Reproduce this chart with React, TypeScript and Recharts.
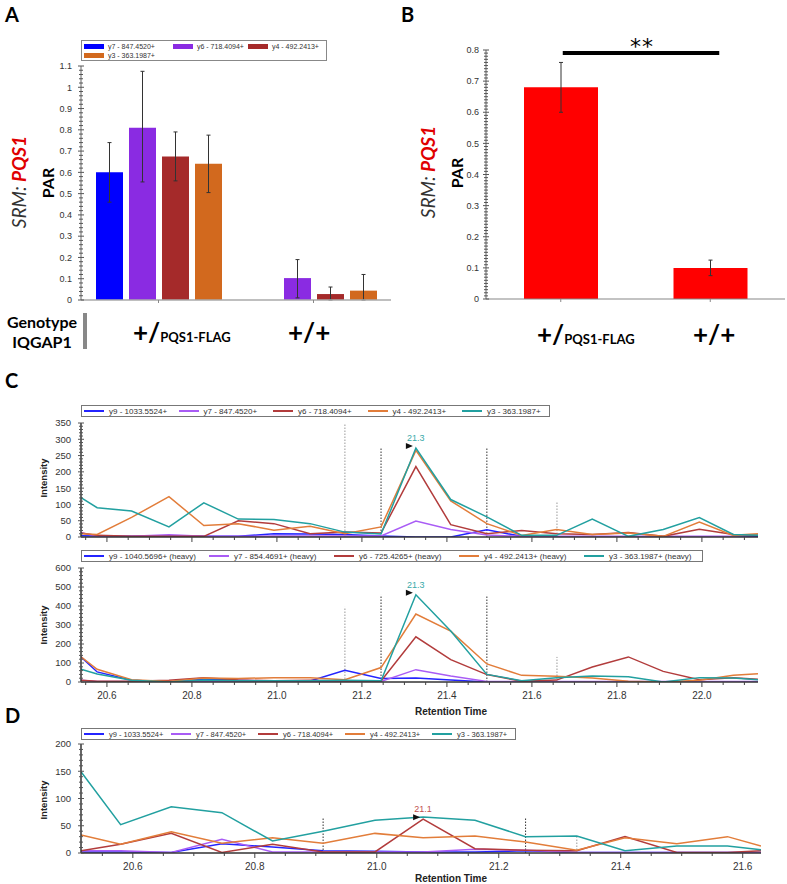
import React from 'react';
import { BarChart, Bar, LineChart, Line, XAxis, YAxis, ErrorBar, ReferenceLine } from 'recharts';

// ---- panel A: PAR per transition ----
const genotypes = ['+/PQS1-FLAG', '+/+'];
const y7Par = [0.6, 0];
const y6Par = [0.81, 0.103];
const y4Par = [0.675, 0.028];
const y3Par = [0.64, 0.044];
const y7Err = [[0.14, 0.14], [0, 0]];
const y6Err = [[0.255, 0.265], [0.093, 0.087]];
const y4Err = [[0.115, 0.115], [0.028, 0.033]];
const y3Err = [[0.135, 0.135], [0.044, 0.076]];
const aMajorTicks = [0, 0.1, 0.2, 0.3, 0.4, 0.5, 0.6, 0.7, 0.8, 0.9, 1, 1.1];

// ---- panel B: mean PAR ----
const bPar = [0.68, 0.1];
const bErr = [0.08, 0.025];
const bMajorTicks = [0, 0.1, 0.2, 0.3, 0.4, 0.5, 0.6, 0.7, 0.8];

// ---- panel C: chromatograms (light / heavy) ----
const cTimes = [20.539, 20.577, 20.658, 20.746, 20.828, 20.909, 20.993, 21.078, 21.16, 21.245, 21.327,
  21.409, 21.494, 21.576, 21.658, 21.742, 21.827, 21.909, 21.994, 22.074, 22.132];
const cY9 = [4, 3, 2, 3, 2, 2, 10, 9, 8, 3, 0, 0, 22, 2, 1, 1, 1, 1, 1, 1, 1];
const cY7 = [13, 3, 2, 7, 2, 2, 3, 3, 3, 3, 49, 23, 6, 2, 2, 2, 2, 2, 2, 2, 5];
const cY6 = [12, 5, 2, 2, 2, 50, 41, 10, 15, 12, 216, 38, 10, 20, 10, 8, 14, 2, 24, 8, 5];
const cY4 = [10, 8, 60, 124, 35, 41, 21, 33, 10, 31, 266, 111, 41, 5, 23, 8, 12, 2, 46, 5, 10];
const cY3 = [121, 90, 80, 31, 105, 55, 54, 41, 15, 9, 273, 115, 62, 5, 5, 55, 2, 23, 60, 8, 5];
const cY9h = [132, 53, 9, 0, 14, 9, 5, 5, 62, 18, 21, 10, 0, 0, 0, 0, 0, 0, 0, 0, 0];
const cY7h = [9, 3, 3, 3, 3, 3, 3, 3, 3, 3, 65, 32, 3, 2, 2, 2, 2, 2, 2, 2, 2];
const cY6h = [9, 4, 4, 9, 23, 10, 7, 9, 5, 5, 238, 118, 39, 4, 10, 79, 132, 56, 12, 23, 14];
const cY4h = [132, 67, 12, 3, 21, 18, 23, 23, 12, 76, 358, 268, 95, 35, 30, 21, 4, 0, 9, 35, 44];
const cY3h = [67, 42, 9, 0, 10, 7, 7, 7, 9, 7, 459, 268, 40, 7, 23, 32, 28, 0, 23, 21, 12];
const cTopMajorTicks = [0, 50, 100, 150, 200, 250, 300, 350];
const cBotMajorTicks = [0, 100, 200, 300, 400, 500, 600];
const cTimeTicks = [20.6, 20.8, 21.0, 21.2, 21.4, 21.6, 21.8, 22.0];
const cMarkTimes = [21.16, 21.245, 21.494, 21.659];
const cTopMarkTops = [350, 276, 276, 107];
const cBotMarkTops = [395, 458, 458, 132];
const cMarkDark = [false, true, true, false];

// ---- panel D: chromatogram ----
const dTimes = [20.515, 20.58, 20.663, 20.746, 20.829, 20.912, 20.997, 21.076, 21.161, 21.244, 21.328,
  21.407, 21.492, 21.575, 21.63];
const dY9 = [2, 2, 1, 17, 11, 4, 3, 2, 2, 4, 1, 1, 1, 1, 1];
const dY7 = [4, 4, 1, 25, 2, 2, 2, 2, 7, 5, 1, 1, 1, 1, 1];
const dY6 = [4, 16, 36, 1, 16, 2, 2, 62, 8, 5, 4, 30, 1, 1, 4];
const dY4 = [33, 16, 39, 18, 28, 18, 36, 28, 31, 20, 5, 28, 17, 30, 13];
const dY3 = [149, 52, 85, 74, 22, 40, 60, 66, 60, 30, 31, 4, 13, 13, 6];
const dMajorTicks = [0, 50, 100, 150, 200];
const dTimeTicks = [20.6, 20.8, 21.0, 21.2, 21.4, 21.6];
const dMarkTimes = [20.912, 21.244, 21.328];
const dMarkTops = [64, 64, 29];
const dMarkDark = [true, true, false];

const C_BLUE = '#2424ff';
const C_VIOLET = '#a95cf5';
const C_BROWN = '#b23c3c';
const C_ORANGE = '#e27d3a';
const C_TEAL = '#22a0a0';
const SANS = '"Liberation Sans", Arial, sans-serif';
const FIG = 'Lato, "Open Sans", sans-serif';

const range = (a: number, b: number, step: number) => {
  const out: number[] = [];
  for (let v = a; v <= b + 1e-9; v += step) out.push(Math.round(v * 1000) / 1000);
  return out;
};
const inList = (v: number, list: number[]) => list.some((m) => Math.abs(m - v) < 1e-6);

const yTick = (majors: number[], gap: number, fontSize: number) => (props: any) => {
  const { x, y, payload } = props;
  const major = inList(payload.value, majors);
  const h = major ? 3 : 2;
  return (
    <g>
      <line x1={x - h} x2={x + h} y1={y} y2={y} stroke="#555" strokeWidth={1} />
      {major && (
        <text x={x - gap} y={y + fontSize * 0.36} textAnchor="end" fontSize={fontSize} fontFamily={SANS} fill="#333">
          {String(Math.round(payload.value * 10) / 10)}
        </text>
      )}
    </g>
  );
};

const timeTick = (majors: number[], showLabel: boolean) => (props: any) => {
  const { x, y, payload } = props;
  const major = inList(payload.value, majors);
  return (
    <g>
      <line x1={x} x2={x} y1={y} y2={y + (major ? 5 : 3)} stroke="#444" strokeWidth={1} />
      {major && showLabel && (
        <text x={x} y={y + 17} textAnchor="middle" fontSize={10} fontFamily={SANS} fill="#333">
          {payload.value.toFixed(1)}
        </text>
      )}
    </g>
  );
};

const catTick = (props: any) => {
  const { x, y } = props;
  return <line x1={x} x2={x} y1={y} y2={y + 3} stroke="#888" strokeWidth={1} />;
};

// significance bar: runs a little past the centre of the second bar, as in the figure
const sigBar = (p: any) => <line x1={p.x1 + 2} x2={p.x2 + 9} y1={p.y1} y2={p.y2} stroke="#000" strokeWidth={4} />;

const peakDot = (values: number[], times: number[], color: string) => {
  const peak = values.indexOf(Math.max(...values));
  return (props: any) => {
    const { cx, cy, index } = props;
    if (index !== peak) return <g key={index} />;
    return (
      <g key={index}>
        <text x={cx} y={cy - 7} textAnchor="middle" fontSize={9} fontFamily={SANS} fill={color}>
          {times[index].toFixed(1)}
        </text>
        <path d={`M${cx - 10},${cy - 5} L${cx - 3},${cy - 2} L${cx - 10},${cy + 1} Z`} fill="#111" />
      </g>
    );
  };
};

function Rot({ cx, cy, children, style }: any) {
  return (
    <div style={{ position: 'absolute', left: cx, top: cy, transform: 'translate(-50%, -50%) rotate(-90deg)', whiteSpace: 'nowrap', ...style }}>
      {children}
    </div>
  );
}

function Letter({ x, y, t }: any) {
  return <div style={{ position: 'absolute', left: x, top: y, font: `bold 20px ${FIG}`, lineHeight: '20px' }}>{t}</div>;
}

function Genotype({ x, y, flag }: any) {
  return (
    <div style={{ position: 'absolute', left: x, top: y, font: `bold 26px ${FIG}`, lineHeight: '26px', whiteSpace: 'nowrap' }}>
      {flag ? (
        <>
          +/<span style={{ fontSize: 13 }}>PQS1-FLAG</span>
        </>
      ) : (
        '+/+'
      )}
    </div>
  );
}

function LineLegend({ left, top, width, step, items, fontSize }: any) {
  return (
    <div style={{ position: 'absolute', left, top, width, height: 12, border: '1px solid #777', boxSizing: 'border-box', background: '#fff' }}>
      {items.map((it: any, i: number) => (
        <div key={i} style={{ position: 'absolute', left: 2 + i * step, top: 0, height: 10, display: 'flex', alignItems: 'center', whiteSpace: 'nowrap' }}>
          <div style={{ width: 20, height: 2, background: it.color, marginRight: 5 }} />
          <span style={{ font: `${fontSize}px ${SANS}`, color: '#333' }}>{it.label}</span>
        </div>
      ))}
    </div>
  );
}

function Chromatogram({ plotTop, plotBottom, plotRight, domain, yMax, yStep, yMajors, xMajors, showX, times, traces, peakKey, peakColor, markTimes, markTops, markDark }: any) {
  const top = plotTop - 5;
  const xh = showX ? 22 : 8;
  const height = plotBottom - top + xh + 2;
  const data = times.map((t: number, i: number) => {
    const row: any = { t };
    traces.forEach((tr: any) => (row[tr.key] = tr.values[i]));
    return row;
  });
  const xTicks = range(Math.ceil(domain[0] / 0.05 - 1e-6) * 0.05, domain[1], 0.05);
  const yTicks = range(0, yMax, yStep);
  return (
    <div style={{ position: 'absolute', left: 0, top, width: 787, height }}>
      <LineChart width={787} height={height} data={data} margin={{ top: 5, right: 787 - plotRight, bottom: 2, left: 0 }}>
        <XAxis type="number" dataKey="t" domain={domain} allowDataOverflow ticks={xTicks} interval={0} height={xh}
          tickSize={0} tickMargin={0} tickLine={false} axisLine={{ stroke: '#333', strokeWidth: 1.5 }} tick={timeTick(xMajors, showX)} />
        <YAxis type="number" domain={[0, yMax]} allowDataOverflow ticks={yTicks} interval={0} width={81}
          tickSize={0} tickMargin={0} tickLine={false} axisLine={{ stroke: '#333', strokeWidth: 1.5 }} tick={yTick(yMajors, 10, 9.5)} />
        {markTimes.map((t: number, i: number) => (
          <ReferenceLine key={i} segment={[{ x: t, y: 0 }, { x: t, y: markTops[i] }]} stroke={markDark[i] ? '#333' : '#999'} strokeDasharray="1.5 1.5" />
        ))}
        {traces.map((tr: any) => (
          <Line key={tr.key} type="linear" dataKey={tr.key} stroke={tr.color} strokeWidth={1.5}
            dot={tr.key === peakKey ? peakDot(tr.values, times, peakColor) : false} activeDot={false} isAnimationActive={false} />
        ))}
      </LineChart>
    </div>
  );
}

export default function App() {
  const barData = genotypes.map((g, i) => ({
    g, y7: y7Par[i], y6: y6Par[i], y4: y4Par[i], y3: y3Par[i],
    y7e: y7Err[i], y6e: y6Err[i], y4e: y4Err[i], y3e: y3Err[i],
  }));
  const bData = genotypes.map((g, i) => ({ g, par: bPar[i], err: bErr[i] }));

  const cTraces = [
    { key: 'y9', color: C_BLUE, values: cY9, label: 'y9 - 1033.5524+' },
    { key: 'y7', color: C_VIOLET, values: cY7, label: 'y7 - 847.4520+' },
    { key: 'y6', color: C_BROWN, values: cY6, label: 'y6 - 718.4094+' },
    { key: 'y4', color: C_ORANGE, values: cY4, label: 'y4 - 492.2413+' },
    { key: 'y3', color: C_TEAL, values: cY3, label: 'y3 - 363.1987+' },
  ];
  const cHeavy = [
    { key: 'y9', color: C_BLUE, values: cY9h, label: 'y9 - 1040.5696+ (heavy)' },
    { key: 'y7', color: C_VIOLET, values: cY7h, label: 'y7 - 854.4691+ (heavy)' },
    { key: 'y6', color: C_BROWN, values: cY6h, label: 'y6 - 725.4265+ (heavy)' },
    { key: 'y4', color: C_ORANGE, values: cY4h, label: 'y4 - 492.2413+ (heavy)' },
    { key: 'y3', color: C_TEAL, values: cY3h, label: 'y3 - 363.1987+ (heavy)' },
  ];
  const dTraces = [
    { key: 'y9', color: C_BLUE, values: dY9, label: 'y9 - 1033.5524+' },
    { key: 'y7', color: C_VIOLET, values: dY7, label: 'y7 - 847.4520+' },
    { key: 'y6', color: C_BROWN, values: dY6, label: 'y6 - 718.4094+' },
    { key: 'y4', color: C_ORANGE, values: dY4, label: 'y4 - 492.2413+' },
    { key: 'y3', color: C_TEAL, values: dY3, label: 'y3 - 363.1987+' },
  ];
  const aLegend = [
    { c: '#0000ff', l: 'y7 - 847.4520+', x: 2, y: 2 },
    { c: '#8a2be2', l: 'y6 - 718.4094+', x: 91, y: 2 },
    { c: '#a52a2a', l: 'y4 - 492.2413+', x: 166, y: 2 },
    { c: '#d2691e', l: 'y3 - 363.1987+', x: 2, y: 11 },
  ];

  return (
    <div style={{ position: 'absolute', left: 0, top: 0, width: 787, height: 884, overflow: 'hidden', background: '#fff' }}>
      {/* ---- A ---- */}
      <Letter x={5} y={4} t="A" />
      <div style={{ position: 'absolute', left: 81, top: 40, width: 246, height: 21, border: '1px solid #888', boxSizing: 'border-box' }}>
        {aLegend.map((it, i) => (
          <div key={i} style={{ position: 'absolute', left: it.x, top: it.y - 1, height: 8, display: 'flex', alignItems: 'center', whiteSpace: 'nowrap' }}>
            <div style={{ width: 20, height: 5, background: it.c, marginRight: 4 }} />
            <span style={{ font: `7px ${SANS}`, color: '#333' }}>{it.l}</span>
          </div>
        ))}
      </div>
      <div style={{ position: 'absolute', left: 0, top: 30, width: 400, height: 290 }}>
        <BarChart width={400} height={290} data={barData} margin={{ top: 36, right: 9, bottom: 12, left: 0 }} barSize={27} barGap={6}>
          <XAxis dataKey="g" height={8} tickSize={0} tickMargin={0} tickLine={false} interval={0}
            axisLine={{ stroke: '#aaa', strokeWidth: 1.5 }} tick={catTick} />
          <YAxis type="number" domain={[0, 1.1]} allowDataOverflow ticks={range(0, 1.1, 0.02)} interval={0} width={81}
            tickSize={0} tickMargin={0} tickLine={false} axisLine={{ stroke: '#666' }} tick={yTick(aMajorTicks, 9, 9)} />
          <Bar dataKey="y7" fill="#0000ff" isAnimationActive={false}>
            <ErrorBar dataKey="y7e" width={2} stroke="#333" strokeWidth={1} />
          </Bar>
          <Bar dataKey="y6" fill="#8a2be2" isAnimationActive={false}>
            <ErrorBar dataKey="y6e" width={2} stroke="#333" strokeWidth={1} />
          </Bar>
          <Bar dataKey="y4" fill="#a52a2a" isAnimationActive={false}>
            <ErrorBar dataKey="y4e" width={2} stroke="#333" strokeWidth={1} />
          </Bar>
          <Bar dataKey="y3" fill="#d2691e" isAnimationActive={false}>
            <ErrorBar dataKey="y3e" width={2} stroke="#333" strokeWidth={1} />
          </Bar>
        </BarChart>
      </div>
      <Rot cx={18} cy={182} style={{ font: `italic 19px ${FIG}`, color: '#333' }}>
        SRM: <span style={{ color: '#e00000', fontWeight: 'bold' }}>PQS1</span>
      </Rot>
      <Rot cx={47} cy={183} style={{ font: `bold 16px ${FIG}` }}>PAR</Rot>
      <div style={{ position: 'absolute', left: 6, top: 312, width: 72, textAlign: 'center', font: `bold 16px ${FIG}`, lineHeight: '20px' }}>
        Genotype<br />IQGAP1
      </div>
      <div style={{ position: 'absolute', left: 83, top: 313, width: 4, height: 36, background: '#888' }} />
      <Genotype x={133} y={319} flag />
      <Genotype x={288} y={319} />

      {/* ---- B ---- */}
      <Letter x={401} y={4} t="B" />
      <div style={{ position: 'absolute', left: 380, top: 40, width: 407, height: 270 }}>
        <BarChart width={407} height={270} data={bData} margin={{ top: 10, right: 2, bottom: 3, left: 0 }} barSize={74}>
          <XAxis dataKey="g" height={8} tickSize={0} tickMargin={0} tickLine={false} interval={0}
            axisLine={{ stroke: '#888', strokeWidth: 1.2 }} tick={catTick} />
          <YAxis type="number" domain={[0, 0.8]} allowDataOverflow ticks={range(0, 0.8, 0.01)} interval={0} width={106}
            tickSize={0} tickMargin={0} tickLine={false} axisLine={{ stroke: '#666' }} tick={yTick(bMajorTicks, 7, 9)} />
          <ReferenceLine segment={[{ x: genotypes[0], y: 0.79 }, { x: genotypes[1], y: 0.79 }]} shape={sigBar} />
          <Bar dataKey="par" fill="#ff0000" isAnimationActive={false}>
            <ErrorBar dataKey="err" width={2} stroke="#333" strokeWidth={1} />
          </Bar>
        </BarChart>
      </div>
      <div style={{ position: 'absolute', left: 630, top: 34, font: `22px "DejaVu Sans", sans-serif`, letterSpacing: 1 }}>**</div>
      <Rot cx={427} cy={172} style={{ font: `italic 19px ${FIG}`, color: '#333' }}>
        SRM: <span style={{ color: '#e00000', fontWeight: 'bold' }}>PQS1</span>
      </Rot>
      <Rot cx={456} cy={173} style={{ font: `bold 16px ${FIG}` }}>PAR</Rot>
      <Genotype x={537} y={321} flag />
      <Genotype x={693} y={321} />

      {/* ---- C ---- */}
      <Letter x={5} y={370} t="C" />
      <LineLegend left={81} top={405} width={469} step={94.5} fontSize={8} items={cTraces} />
      <Chromatogram plotTop={423} plotBottom={537} plotRight={758} domain={[20.539, 22.132]} yMax={350} yStep={10}
        yMajors={cTopMajorTicks} xMajors={cTimeTicks} showX={false} times={cTimes} traces={cTraces}
        peakKey="y3" peakColor="#3aa9a9" markTimes={cMarkTimes} markTops={cTopMarkTops} markDark={cMarkDark} />
      <Rot cx={43} cy={478} style={{ font: `bold 9.5px ${SANS}`, color: '#222' }}>Intensity</Rot>
      <LineLegend left={81} top={550} width={622} step={125} fontSize={8} items={cHeavy} />
      <Chromatogram plotTop={568} plotBottom={682} plotRight={758} domain={[20.539, 22.132]} yMax={600} yStep={20}
        yMajors={cBotMajorTicks} xMajors={cTimeTicks} showX times={cTimes} traces={cHeavy}
        peakKey="y3" peakColor="#3aa9a9" markTimes={cMarkTimes} markTops={cBotMarkTops} markDark={cMarkDark} />
      <Rot cx={43} cy={625} style={{ font: `bold 9.5px ${SANS}`, color: '#222' }}>Intensity</Rot>
      <div style={{ position: 'absolute', left: 451, top: 711, transform: 'translate(-50%, -50%)', font: `bold 10px ${SANS}`, color: '#222', whiteSpace: 'nowrap' }}>
        Retention Time
      </div>

      {/* ---- D ---- */}
      <Letter x={5} y={705} t="D" />
      <LineLegend left={81} top={728} width={435} step={87} fontSize={7.5} items={dTraces} />
      <Chromatogram plotTop={744} plotBottom={853} plotRight={761} domain={[20.515, 21.63]} yMax={200} yStep={10}
        yMajors={dMajorTicks} xMajors={dTimeTicks} showX times={dTimes} traces={dTraces}
        peakKey="y6" peakColor="#c0504d" markTimes={dMarkTimes} markTops={dMarkTops} markDark={dMarkDark} />
      <Rot cx={43} cy={800} style={{ font: `bold 9.5px ${SANS}`, color: '#222' }}>Intensity</Rot>
      <div style={{ position: 'absolute', left: 451, top: 878, transform: 'translate(-50%, -50%)', font: `bold 10px ${SANS}`, color: '#222', whiteSpace: 'nowrap' }}>
        Retention Time
      </div>
    </div>
  );
}
